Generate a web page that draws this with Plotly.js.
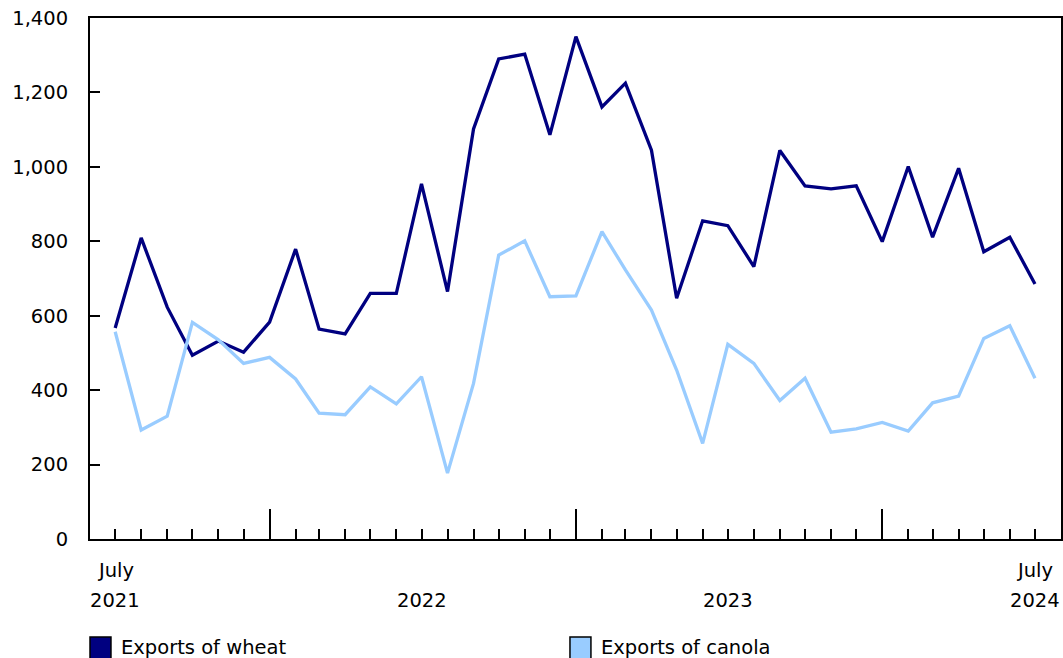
<!DOCTYPE html>
<html>
<head>
<meta charset="utf-8">
<script src="https://cdn.plot.ly/plotly-3.0.1.min.js"></script>
<style>
html,body{margin:0;padding:0;background:#fff;}
#chart{width:1063px;height:658px;}
</style>
</head>
<body>
<div id="chart"></div>
<script>
var months = ["2021-07-01","2021-08-01","2021-09-01","2021-10-01","2021-11-01","2021-12-01",
"2022-01-01","2022-02-01","2022-03-01","2022-04-01","2022-05-01","2022-06-01",
"2022-07-01","2022-08-01","2022-09-01","2022-10-01","2022-11-01","2022-12-01",
"2023-01-01","2023-02-01","2023-03-01","2023-04-01","2023-05-01","2023-06-01",
"2023-07-01","2023-08-01","2023-09-01","2023-10-01","2023-11-01","2023-12-01",
"2024-01-01","2024-02-01","2024-03-01","2024-04-01","2024-05-01","2024-06-01",
"2024-07-01"];
var wheat = [567, 809, 623, 494, 532, 502, 583, 779, 564, 551, 660, 660,
954, 665, 1102, 1290, 1303, 1086, 1350, 1161, 1225, 1045, 647, 855,
842, 732, 1044, 949, 941, 949, 799, 1001, 811, 996, 772, 811, 685];
var canola = [557, 293, 330, 582, 535, 472, 488, 430, 338, 334, 409, 363,
436, 177, 418, 763, 801, 651, 653, 826, 723, 615, 454, 257,
523, 472, 372, 432, 287, 296, 313, 290, 366, 384, 539, 573, 432];
var seriesNames = ["Exports of wheat", "Exports of canola"];
var seriesColors = ["#000080", "#99ccff"];
var monthLabelDates = ["2021-07-01","2024-07-01"];
var monthLabelTexts = ["July","July"];
var yearLabelDates = ["2021-07-01","2022-07-01","2023-07-01","2024-07-01"];
var yearLabelTexts = ["2021","2022","2023","2024"];

var FONT = "DejaVu Sans, Verdana, sans-serif";
var FS = 19.5;
var traces = [
  {x: months, y: wheat, type: "scatter", mode: "lines", name: seriesNames[0],
   line: {color: seriesColors[0], width: 3.3}, showlegend: false},
  {x: months, y: canola, type: "scatter", mode: "lines", name: seriesNames[1],
   line: {color: seriesColors[1], width: 3.3}, showlegend: false}
];

var annotations = [];
for (var i = 0; i < monthLabelDates.length; i++) {
  annotations.push({x: monthLabelDates[i], xref: "x", y: -0.0614, yref: "paper",
    yanchor: "middle", xanchor: "center", showarrow: false, text: monthLabelTexts[i],
    font: {family: FONT, size: FS, color: "#000"}});
}
for (var k = 0; k < yearLabelDates.length; k++) {
  annotations.push({x: yearLabelDates[k], xref: "x", y: -0.1190, yref: "paper",
    yanchor: "middle", xanchor: "center", showarrow: false, text: yearLabelTexts[k],
    font: {family: FONT, size: FS, color: "#000"}});
}
var shapes = [];
var legendX = [0, 0.4943];
for (var j = 0; j < seriesNames.length; j++) {
  shapes.push({type: "rect", xref: "paper", yref: "paper",
    x0: legendX[j], x1: legendX[j] + 0.0216, y0: -0.188, y1: -0.24,
    fillcolor: seriesColors[j], line: {color: "#000", width: 1.5}});
  annotations.push({x: legendX[j] + 0.0299, xref: "paper", y: -0.209, yref: "paper",
    xanchor: "left", yanchor: "middle", showarrow: false, text: seriesNames[j],
    font: {family: FONT, size: FS, color: "#000"}});
}

var layout = {
  width: 1063, height: 658,
  margin: {l: 90, r: 2, t: 18, b: 119, pad: 0},
  paper_bgcolor: "#fff", plot_bgcolor: "#fff",
  font: {family: FONT, size: FS, color: "#000"},
  xaxis: {
    type: "date", range: ["2021-06-01", "2024-08-01"],
    showgrid: false, zeroline: false, showline: true, mirror: true,
    linecolor: "#000", linewidth: 2,
    ticks: "inside", ticklen: 30, tickwidth: 2, tickcolor: "#000",
    tick0: "2022-01-01", dtick: "M12", showticklabels: false,
    minor: {ticks: "inside", ticklen: 10, tickwidth: 2, tickcolor: "#000", dtick: "M1", tick0: "2021-07-01", showgrid: false}
  },
  yaxis: {
    range: [0, 1400], dtick: 200, tickformat: ",",
    showgrid: false, zeroline: false, showline: true, mirror: true,
    linecolor: "#000", linewidth: 2,
    ticks: "inside", ticklen: 10, tickwidth: 2, tickcolor: "#000",
    ticklabelstandoff: 16,
    tickfont: {family: FONT, size: FS, color: "#000"}
  },
  annotations: annotations,
  shapes: shapes,
  showlegend: false
};
Plotly.newPlot("chart", traces, layout, {displayModeBar: false, staticPlot: true});
</script>
</body>
</html>
